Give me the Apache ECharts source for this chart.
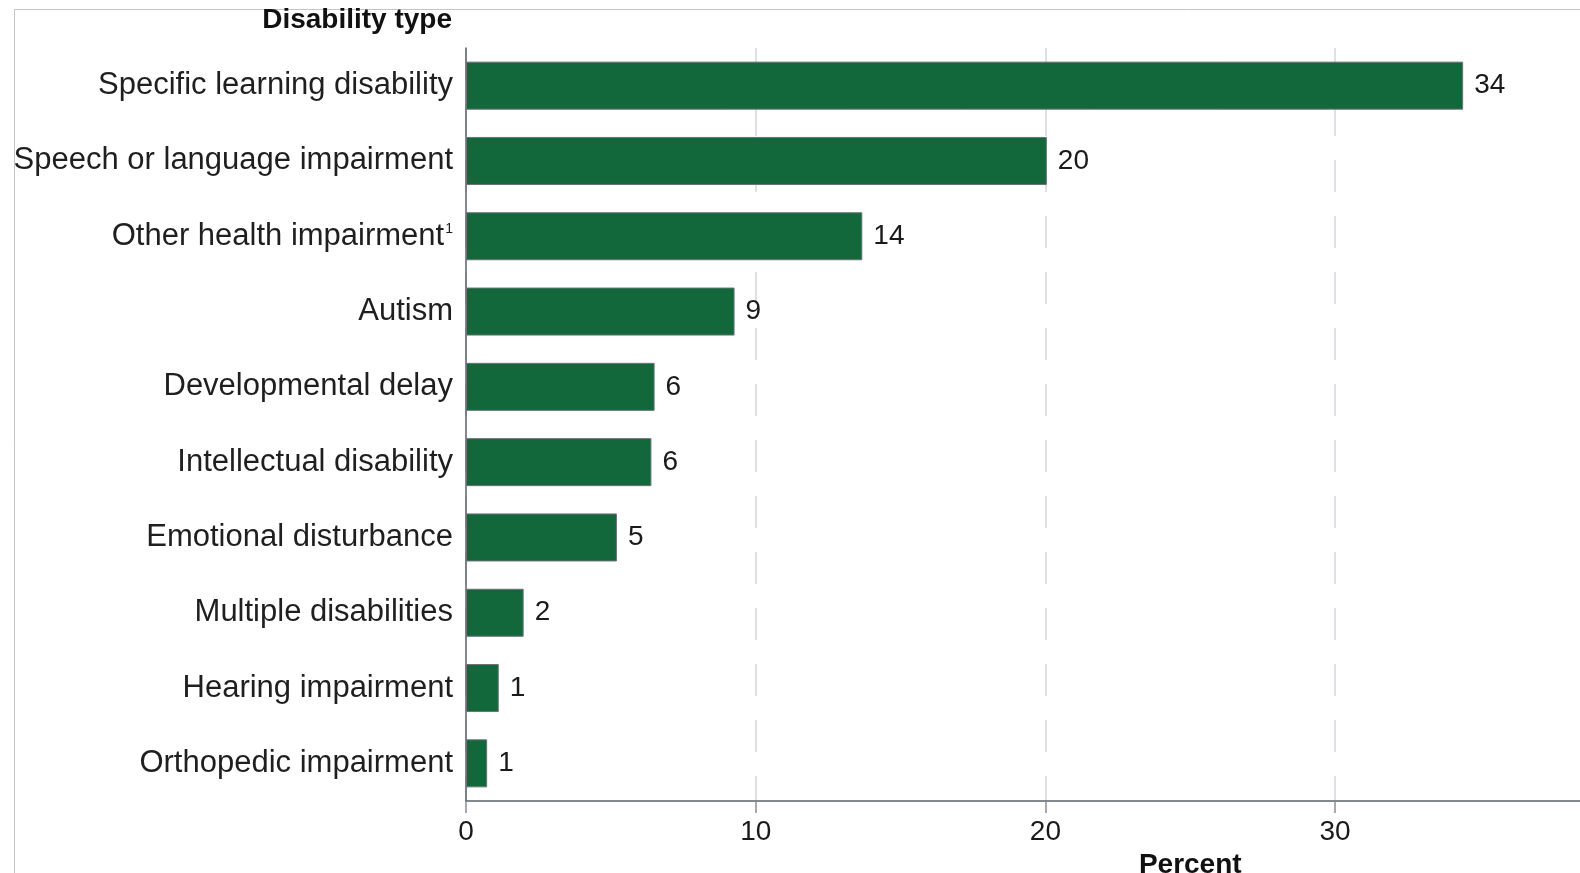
<!DOCTYPE html>
<html><head><meta charset="utf-8">
<script src="https://cdn.jsdelivr.net/npm/echarts@6/dist/echarts.min.js"></script>
<style>html,body{margin:0;padding:0;background:#fff}#c{width:1580px;height:873px}</style>
</head><body><div id="c"></div>
<script>
const categories = [
  'Specific learning disability',
  'Speech or language impairment',
  'Other health impairment\u00B9',
  'Autism',
  'Developmental delay',
  'Intellectual disability',
  'Emotional disturbance',
  'Multiple disabilities',
  'Hearing impairment',
  'Orthopedic impairment'
];
const barValues = [34.42, 20.05, 13.68, 9.27, 6.51, 6.40, 5.21, 1.99, 1.13, 0.73];
const labelValues = [34, 20, 14, 9, 6, 6, 5, 2, 1, 1];
const xTickLabels = ['0', '10', '20', '30', '40'];
const xAxisTitle = 'Percent';
const yAxisTitle = 'Disability type';

const FONT = 'Liberation Sans';
const chart = echarts.init(document.getElementById('c'), null, {renderer: 'canvas'});
chart.setOption({
  animation: false,
  backgroundColor: '#fff',
  textStyle: {fontFamily: FONT},
  grid: {left: 466, top: 48, bottom: 72, right: -334.5, containLabel: false, outerBoundsMode: 'none'},
  graphic: [
    {type: 'line', shape: {x1: 14.5, y1: 9.5, x2: 1580, y2: 9.5}, style: {stroke: '#c6c6c6', lineWidth: 1}, silent: true},
    {type: 'line', shape: {x1: 14.5, y1: 9.5, x2: 14.5, y2: 873}, style: {stroke: '#c6c6c6', lineWidth: 1}, silent: true}
  ],
  xAxis: {
    type: 'value', min: 0, max: 50, interval: 10,
    name: xAxisTitle, nameLocation: 'middle', nameGap: 47,
    nameTextStyle: {fontFamily: FONT, fontWeight: 'bold', fontSize: 28, color: '#111'},
    axisLine: {show: true, lineStyle: {color: '#5c616b', width: 1.5}},
    axisTick: {show: true, length: 12, lineStyle: {color: '#8a8f99', width: 1.5}},
    axisLabel: {fontFamily: FONT, fontSize: 28, color: '#1a1a1a', margin: 17,
      formatter: (v) => xTickLabels[Math.round(v / 10)] ?? String(v)},
    splitLine: {show: true, lineStyle: {color: '#d3d6dc', width: 1.5, type: [32, 24]}}
  },
  yAxis: {
    type: 'category', data: categories, inverse: true,
    name: yAxisTitle, nameLocation: 'start', nameGap: 28,
    nameTextStyle: {fontFamily: FONT, fontWeight: 'bold', fontSize: 28, color: '#111', align: 'right', verticalAlign: 'middle', padding: [0, 14, 0, 0]},
    axisLine: {show: true, lineStyle: {color: '#5c616b', width: 1.5}},
    axisTick: {show: false},
    axisLabel: {
      fontFamily: FONT, fontSize: 31, color: '#1f1f1f', margin: 13,
      formatter: (v) => v.replace('\u00B9', '{sup|1}'),
      rich: {sup: {fontFamily: FONT, fontSize: 14, color: '#1f1f1f', padding: [0, 0, 14, 1]}}
    }
  },
  series: [{
    type: 'bar',
    data: barValues,
    barWidth: 48,
    itemStyle: {color: '#12683a', borderColor: '#6b7078', borderWidth: 1},
    label: {
      show: true, position: 'right', distance: 11,
      fontFamily: FONT, fontSize: 28, color: '#1a1a1a',
      formatter: (p) => String(labelValues[p.dataIndex])
    }
  }]
});
</script>
</body></html>
